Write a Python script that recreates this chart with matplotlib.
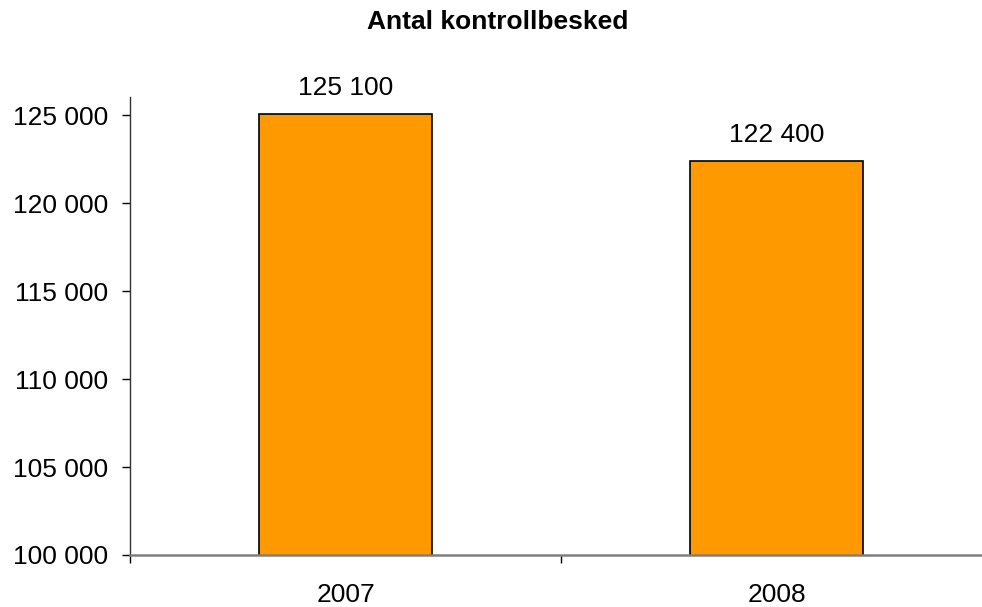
import matplotlib
matplotlib.use("Agg")
import matplotlib.pyplot as plt
from matplotlib.ticker import FuncFormatter, FixedLocator

plt.rcParams['font.family'] = ['Liberation Sans', 'DejaVu Sans']

title = "Antal kontrollbesked"
categories = ["2007", "2008"]
values = [125100, 122400]
yticks = [100000, 105000, 110000, 115000, 120000, 125000]

def fmt(v):
    return f"{int(v):,}".replace(",", " ")

fig = plt.figure(figsize=(9.82, 6.07), dpi=100)
ax = fig.add_axes([130/982, 1 - 555/607, 862/982, (555 - 97)/607])

x = list(range(len(categories)))
bars = ax.bar(x, values, width=0.4, color="#FF9900", edgecolor="black", linewidth=1.2, zorder=3)
for xi, v in zip(x, values):
    ax.annotate(fmt(v), (xi, v), xytext=(0, 10), textcoords="offset points",
                ha="center", va="bottom", fontsize=19)

ax.set_xlim(-0.5, 1.5)
ax.set_ylim(100000, 126050)
ax.set_yticks(yticks)
ax.yaxis.set_major_formatter(FuncFormatter(lambda v, p: fmt(v)))
ax.tick_params(axis="y", direction="out", length=6, width=1, pad=10, labelsize=19, colors="black")

ax.xaxis.set_major_locator(FixedLocator([-0.5, 0.5, 1.5]))
ax.xaxis.set_major_formatter(FuncFormatter(lambda v, p: ""))
ax.xaxis.set_minor_locator(FixedLocator(x))
ax.set_xticklabels(categories, minor=True)
ax.tick_params(axis="x", which="major", direction="out", length=6, width=1, color="black")
ax.tick_params(axis="x", which="minor", length=0, pad=20, labelsize=19)

for s in ["top", "right"]:
    ax.spines[s].set_visible(False)
ax.spines["left"].set_color("#333333")
ax.spines["left"].set_linewidth(1.0)
ax.spines["bottom"].set_color("#808080")
ax.spines["bottom"].set_linewidth(1.8)
ax.spines["bottom"].set_zorder(4)

fig.text(498/982, 1 - 22/607, title, ha="center", va="center", fontsize=19, fontweight="bold")

fig.savefig("out.png", dpi=100)
